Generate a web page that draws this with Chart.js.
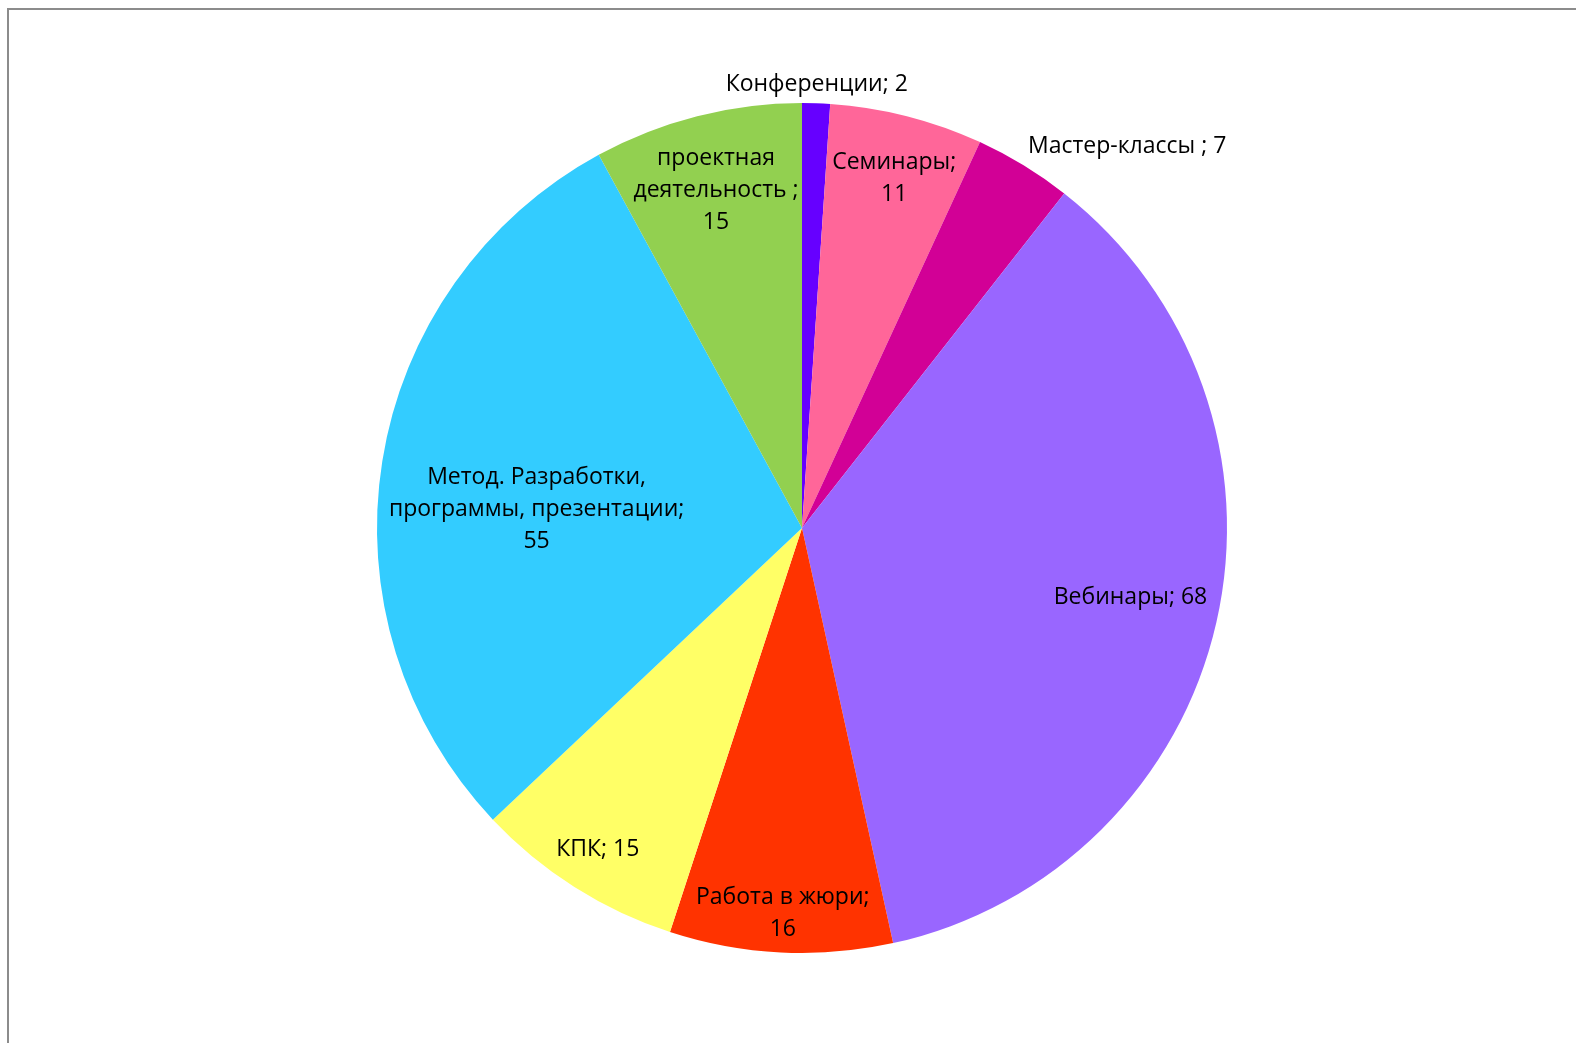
<!DOCTYPE html>
<html>
<head>
<meta charset="utf-8">
<script src="https://cdn.jsdelivr.net/npm/chart.js@4/dist/chart.umd.min.js"></script>
<style>
  html, body { margin: 0; padding: 0; background: #fff; overflow: hidden; }
  #wrap { position: relative; width: 1576px; height: 1043px; }
  #frame { position: absolute; left: 7px; top: 8px; width: 1600px; height: 1100px;
           border-left: 2px solid #8c8c8c; border-top: 2px solid #8c8c8c; }
  canvas { position: absolute; left: 0; top: 0; }
</style>
</head>
<body>
<div id="wrap">
  <div id="frame"></div>
  <canvas id="pie" width="1576" height="1043"></canvas>
</div>
<script>
// Data
const categories = ['Конференции', 'Семинары', 'Мастер-классы ', 'Вебинары', 'Работа в жюри', 'КПК',
                    'Метод. Разработки, программы, презентации', 'проектная деятельность '];
const values = [2, 11, 7, 68, 16, 15, 55, 15];
const colors = ['#6600FF', '#FF6699', '#D20096', '#9966FF', '#FF3300', '#FFFF66', '#33CCFF', '#92D050'];

// Label placement: [radius factor, angle shift in degrees, wrap width px]
const labelPlace = [
    [1.045, 0, 400],
    [0.85, 0.5, 130],
    [1.18, 9, 400],
    [0.79, -0.9, 400],
    [0.907, 0, 195],
    [0.897, 0, 400],
    [0.626, -5, 320],
    [0.82, 0, 182]
];

const FONT = '23px "Open Sans", Lato, sans-serif';
const LINE_H = 32;

function wrapText(ctx, text, maxW) {
    const words = text.split(' ');
    const lines = [];
    let cur = '';
    words.forEach(w => {
        const test = cur ? cur + ' ' + w : w;
        if (cur && ctx.measureText(test).width > maxW) {
            lines.push(cur);
            cur = w;
        } else {
            cur = test;
        }
    });
    if (cur) lines.push(cur);
    return lines;
}

const labelPlugin = {
    id: 'pieLabels',
    afterDatasetsDraw(chart) {
        const ctx = chart.ctx;
        const meta = chart.getDatasetMeta(0);
        ctx.save();
        ctx.font = FONT;
        ctx.fillStyle = '#000';
        ctx.textAlign = 'center';
        ctx.textBaseline = 'middle';
        meta.data.forEach((arc, i) => {
            const p = labelPlace[i];
            const mid = (arc.startAngle + arc.endAngle) / 2 + p[1] * Math.PI / 180;
            const r = arc.outerRadius * p[0];
            const x = arc.x + Math.cos(mid) * r;
            const y = arc.y + Math.sin(mid) * r;
            const lines = wrapText(ctx, categories[i] + '; ' + values[i], p[2]);
            const y0 = y - (lines.length - 1) * LINE_H / 2;
            lines.forEach((ln, k) => ctx.fillText(ln, x, y0 + k * LINE_H));
        });
        ctx.restore();
    }
};

new Chart(document.getElementById('pie').getContext('2d'), {
    type: 'pie',
    data: {
        labels: categories,
        datasets: [{ data: values, backgroundColor: colors, borderWidth: 0 }]
    },
    options: {
        responsive: false,
        animation: false,
        layout: { padding: { left: 377, right: 349, top: 103, bottom: 90 } },
        plugins: { legend: { display: false }, tooltip: { enabled: false } }
    },
    plugins: [labelPlugin]
});
</script>
</body>
</html>
